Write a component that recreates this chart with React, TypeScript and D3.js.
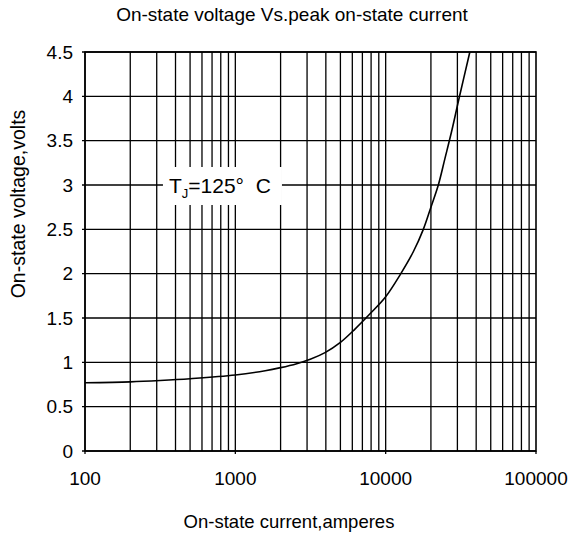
import React, { useEffect, useRef } from 'react';
import * as d3 from 'd3';

// on-state current (A) vs on-state voltage (V) at Tj=125C
const currents = [100, 200, 316, 500, 1000, 1580, 2000, 2560, 3150, 3950, 5000, 6250, 7900, 10000, 12500, 15300, 17800, 20000, 22400, 24800, 27600, 30700, 36300];
const volts = [0.77, 0.78, 0.795, 0.815, 0.857, 0.905, 0.94, 0.985, 1.035, 1.11, 1.225, 1.375, 1.55, 1.74, 1.99, 2.25, 2.5, 2.75, 3.0, 3.3, 3.62, 3.97, 4.5];

const xTicks = [100, 1000, 10000, 100000];
const yTicks = [0, 0.5, 1, 1.5, 2, 2.5, 3, 3.5, 4, 4.5];

const App = () => {
  const svgRef = useRef<SVGSVGElement>(null);

  useEffect(() => {
    const svg = d3.select(svgRef.current);
    svg.selectAll('*').remove();

    const width = 575;
    const height = 538;
    const margin = { top: 52, right: 39, bottom: 87, left: 85 };
    const w = width - margin.left - margin.right;
    const h = height - margin.top - margin.bottom;
    const font = 'Liberation Sans, Arial, sans-serif';

    svg.attr('width', width).attr('height', height);
    const g = svg.append('g').attr('transform', `translate(${margin.left},${margin.top})`);

    const x = d3.scaleLog().domain([100, 100000]).range([0, w]);
    const y = d3.scaleLinear().domain([0, 4.5]).range([h, 0]);

    // every 1..9 line of each decade
    const minor: number[] = [];
    for (let dec = 100; dec < 100000; dec *= 10) {
      for (let k = 1; k <= 9; k++) minor.push(dec * k);
    }

    g.selectAll('.vgrid')
      .data(minor)
      .enter()
      .append('line')
      .attr('x1', (d) => x(d))
      .attr('x2', (d) => x(d))
      .attr('y1', 0)
      .attr('y2', h)
      .attr('stroke', '#000')
      .attr('stroke-width', 1.3);

    g.selectAll('.hgrid')
      .data(yTicks)
      .enter()
      .append('line')
      .attr('x1', -3)
      .attr('x2', w)
      .attr('y1', (d) => y(d))
      .attr('y2', (d) => y(d))
      .attr('stroke', '#000')
      .attr('stroke-width', 1.3);

    // bottom tick stubs
    g.selectAll('.xtick')
      .data(xTicks)
      .enter()
      .append('line')
      .attr('x1', (d) => x(d))
      .attr('x2', (d) => x(d))
      .attr('y1', h)
      .attr('y2', h + 3)
      .attr('stroke', '#000')
      .attr('stroke-width', 1.3);

    // frame
    g.append('rect')
      .attr('width', w)
      .attr('height', h)
      .attr('fill', 'none')
      .attr('stroke', '#000')
      .attr('stroke-width', 1.6);

    // curve
    const line = d3
      .line<number>()
      .x((d, i) => x(currents[i]))
      .y((d) => y(d))
      .curve(d3.curveCatmullRom.alpha(0.5));

    g.append('path')
      .datum(volts)
      .attr('d', line)
      .attr('fill', 'none')
      .attr('stroke', '#000')
      .attr('stroke-width', 1.6);

    // label box covering the grid
    const lab = g.append('g').attr('transform', `translate(${x(330)},${y(3)})`);
    lab.append('rect').attr('x', 0).attr('y', -18).attr('width', 119).attr('height', 38).attr('fill', '#fff');
    const t = lab
      .append('text')
      .attr('x', 6)
      .attr('y', 8)
      .style('font-family', font)
      .style('font-size', '21px');
    t.append('tspan').text('T');
    t.append('tspan').attr('dy', 5).style('font-size', '13px').text('J');
    t.append('tspan').attr('dy', -5).text('=125°\u00a0\u00a0C');

    // tick labels
    g.selectAll('.ylab')
      .data(yTicks)
      .enter()
      .append('text')
      .attr('x', -12)
      .attr('y', (d) => y(d))
      .attr('dy', '0.35em')
      .attr('text-anchor', 'end')
      .style('font-family', font)
      .style('font-size', '19px')
      .text((d) => String(d));

    g.selectAll('.xlab')
      .data(xTicks)
      .enter()
      .append('text')
      .attr('x', (d) => x(d))
      .attr('y', h + 27)
      .attr('dy', '0.35em')
      .attr('text-anchor', 'middle')
      .style('font-family', font)
      .style('font-size', '19px')
      .text((d) => String(d));

    // titles
    svg.append('text')
      .attr('x', 292)
      .attr('y', 14)
      .attr('dy', '0.35em')
      .attr('text-anchor', 'middle')
      .style('font-family', font)
      .style('font-size', '19px')
      .text('On-state voltage Vs.peak on-state current');

    svg.append('text')
      .attr('x', 289)
      .attr('y', 522)
      .attr('dy', '0.35em')
      .attr('text-anchor', 'middle')
      .style('font-family', font)
      .style('font-size', '18.5px')
      .text('On-state current,amperes');

    svg.append('text')
      .attr('transform', `translate(18,204) rotate(-90)`)
      .attr('dy', '0.35em')
      .attr('text-anchor', 'middle')
      .style('font-family', font)
      .style('font-size', '19.5px')
      .text('On-state voltage,volts');
  }, []);

  return <svg ref={svgRef} style={{ position: 'absolute', left: 0, top: 0 }}></svg>;
};

export default App;
